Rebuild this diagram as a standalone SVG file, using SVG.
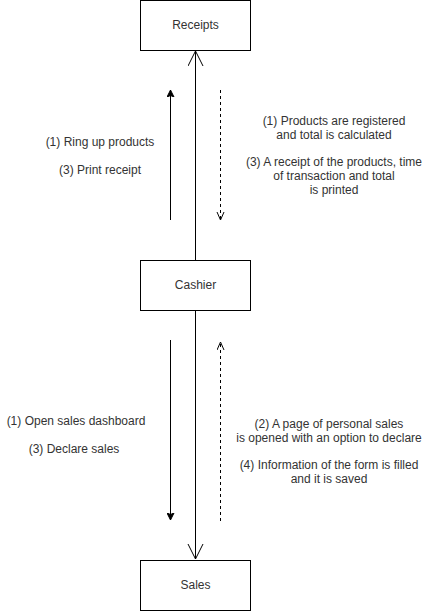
<svg xmlns="http://www.w3.org/2000/svg" width="436" height="611" viewBox="0 0 436 611">
<style>
.box{fill:#fff;stroke:#000;stroke-width:1}
.lbl{font-family:"Liberation Sans",Arial,sans-serif;font-size:12px;fill:#333;text-anchor:middle}
.ln{fill:none;stroke:#000;stroke-width:1}
.dash{stroke-dasharray:3 3}
</style>
<defs>
<marker id="fill" markerWidth="8" markerHeight="8" refX="7" refY="4" orient="auto" markerUnits="userSpaceOnUse">
<path d="M0,0.5 L7,4 L0,7.5 L1.5,4 Z" fill="#000" stroke="#000" stroke-width="1"/>
</marker>
<marker id="openS" markerWidth="10" markerHeight="10" refX="8" refY="4" orient="auto" markerUnits="userSpaceOnUse">
<path d="M0,0.5 L8,4 L0,7.5" fill="none" stroke="#000" stroke-width="1"/>
</marker>
<marker id="openL" markerWidth="16" markerHeight="18" refX="15" refY="8" orient="auto" markerUnits="userSpaceOnUse">
<path d="M0,0.5 L15,8 L0,15.5" fill="none" stroke="#000" stroke-width="1"/>
</marker>
</defs>
<g id="connectors">
<line class="ln" x1="195.5" y1="260" x2="195.5" y2="51" marker-end="url(#openL)"/>
<line class="ln" x1="195.5" y1="310" x2="195.5" y2="559" marker-end="url(#openL)"/>
<line class="ln" x1="170.5" y1="220" x2="170.5" y2="90" marker-end="url(#fill)"/>
<line class="ln dash" x1="220.5" y1="90" x2="220.5" y2="220" marker-end="url(#openS)"/>
<line class="ln" x1="170.5" y1="340" x2="170.5" y2="520" marker-end="url(#fill)"/>
<line class="ln dash" x1="220.5" y1="521" x2="220.5" y2="342" marker-end="url(#openS)"/>
<g id="labels">
<text class="lbl" x="100" y="146">(1) Ring up products</text>
<text class="lbl" x="100" y="174">(3) Print receipt</text>
<text class="lbl" x="334" y="125">(1) Products are registered</text>
<text class="lbl" x="334" y="139">and total is calculated</text>
<text class="lbl" x="334" y="166">(3) A receipt of the products, time</text>
<text class="lbl" x="334" y="180">of transaction and total</text>
<text class="lbl" x="334" y="194">is printed</text>
<text class="lbl" x="76" y="425">(1) Open sales dashboard</text>
<text class="lbl" x="74" y="453">(3) Declare sales</text>
<text class="lbl" x="329" y="428">(2) A page of personal sales</text>
<text class="lbl" x="329" y="442">is opened with an option to declare</text>
<text class="lbl" x="329" y="469">(4) Information of the form is filled</text>
<text class="lbl" x="329" y="483">and it is saved</text>
</g>
</g>
<g id="receipts">
<rect class="box" x="140.5" y="0.5" width="110" height="50"/>
<text class="lbl" x="195.5" y="29">Receipts</text>
</g>
<g id="cashier">
<rect class="box" x="140.5" y="260.5" width="110" height="50"/>
<text class="lbl" x="195.5" y="289">Cashier</text>
</g>
<g id="sales">
<rect class="box" x="140.5" y="560.5" width="110" height="50"/>
<text class="lbl" x="195.5" y="589">Sales</text>
</g>
</svg>
